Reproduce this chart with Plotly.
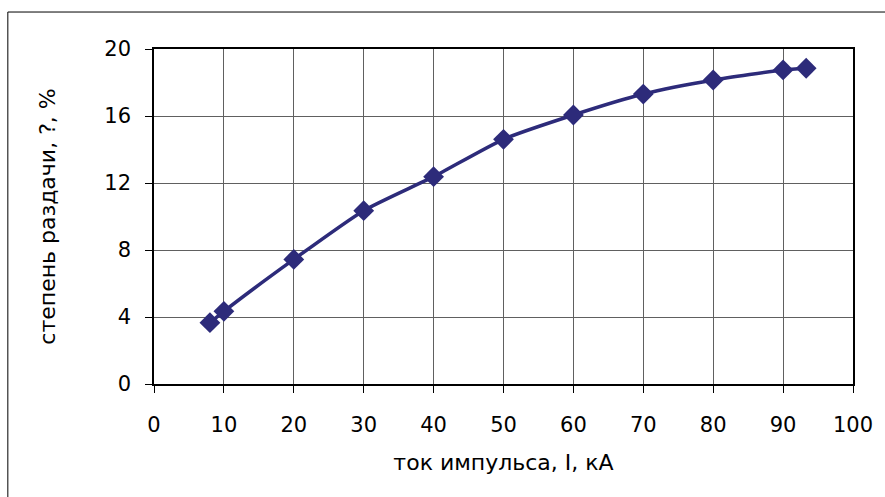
import plotly.graph_objects as go

current_kA = [8, 10, 20, 30, 40, 50, 60, 70, 80, 90, 93.3]
degree_pct = [3.66, 4.34, 7.44, 10.35, 12.38, 14.61, 16.06, 17.31, 18.15, 18.75, 18.85]
x_ticks = [0, 10, 20, 30, 40, 50, 60, 70, 80, 90, 100]
y_ticks = [0, 4, 8, 12, 16, 20]

color = "#2D2B7A"
fig = go.Figure()
fig.add_trace(go.Scatter(
    x=current_kA, y=degree_pct, mode="lines+markers",
    line=dict(color=color, width=3.5, shape="spline", smoothing=0.6),
    marker=dict(symbol="diamond", size=16, color=color),
    showlegend=False,
))

tick_font = dict(family="DejaVu Sans, sans-serif", size=21, color="black")
title_font = dict(family="DejaVu Sans, sans-serif", size=22, color="black")
fig.update_layout(
    width=885, height=497,
    margin=dict(l=154, r=28, t=49, b=113),
    paper_bgcolor="white", plot_bgcolor="white",
    font=tick_font,
)
fig.update_xaxes(
    range=[0, 100], tickvals=x_ticks, ticktext=[str(v) for v in x_ticks],
    showgrid=True, gridcolor="#606060", gridwidth=1,
    showline=True, linecolor="black", linewidth=1.5, mirror=True,
    ticks="outside", ticklen=7, tickcolor="black",
    tickfont=tick_font, ticklabelstandoff=14,
    title=dict(text="ток импульса, I, кА", font=title_font, standoff=19),
    zeroline=False,
)
fig.update_yaxes(
    range=[0, 20], tickvals=y_ticks, ticktext=[str(v) for v in y_ticks],
    showgrid=True, gridcolor="#606060", gridwidth=1,
    showline=True, linecolor="black", linewidth=1.5, mirror=True,
    ticks="outside", ticklen=7, tickcolor="black",
    tickfont=tick_font, ticklabelstandoff=10,
    title=dict(text="степень раздачи, ?, %", font=title_font, standoff=43),
    zeroline=False,
)
fig.add_shape(type="rect", xref="paper", yref="paper",
              x0=-0.2091, x1=1.06, y0=-0.36, y1=1.1104,
              line=dict(color="black", width=1), layer="below")
fig.write_html("out.html", config={"displayModeBar": False},
               post_script="document.body.style.margin='0px';")
